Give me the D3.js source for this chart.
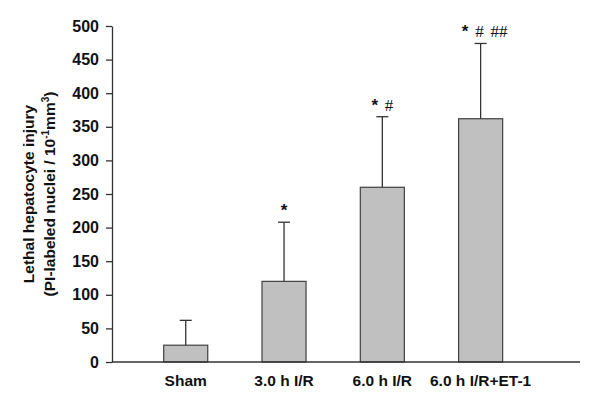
<!DOCTYPE html>
<html><head><meta charset="utf-8">
<script src="https://cdn.jsdelivr.net/npm/d3@7"></script>
<style>body{margin:0;background:#fff}svg{display:block}</style>
</head><body>
<script>
const categories = ["Sham", "3.0 h I/R", "6.0 h I/R", "6.0 h I/R+ET-1"];
const means = [25, 120, 260, 362];
const errTops = [62, 208, 365, 474];
const marks = [[], ["*"], ["*", "#"], ["*", "#", "##"]];
const yTicks = [0, 50, 100, 150, 200, 250, 300, 350, 400, 450, 500];

const W = 600, H = 406;
const svg = d3.select("body").append("svg").attr("width", W).attr("height", H);
const x0 = 112, step = 98.3;
const x = d3.scaleBand().domain(categories)
  .range([x0 + 0.25 * step, x0 + 4.25 * step])
  .paddingInner(0.552).paddingOuter(0.276);
const y = d3.scaleLinear().domain([0, 500]).range([362, 26]);
const axisColor = "#333";
const sans = "Liberation Sans, Arial, sans-serif";

// bars
svg.selectAll("rect.bar").data(categories).enter().append("rect")
  .attr("x", d => x(d)).attr("width", x.bandwidth())
  .attr("y", (d, i) => y(means[i])).attr("height", (d, i) => y(0) - y(means[i]))
  .attr("fill", "#c0c0c0").attr("stroke", "#404040").attr("stroke-width", 1.2);

// error bars
const cx = d => x(d) + x.bandwidth() / 2;
svg.selectAll("line.err").data(categories).enter().append("line")
  .attr("x1", cx).attr("x2", cx)
  .attr("y1", (d, i) => y(means[i])).attr("y2", (d, i) => y(errTops[i]))
  .attr("stroke", "#333").attr("stroke-width", 1.3);
svg.selectAll("line.cap").data(categories).enter().append("line")
  .attr("x1", d => cx(d) - 6).attr("x2", d => cx(d) + 6)
  .attr("y1", (d, i) => y(errTops[i])).attr("y2", (d, i) => y(errTops[i]))
  .attr("stroke", "#333").attr("stroke-width", 1.3);

// significance marks
categories.forEach((c, i) => {
  if (!marks[i].length) return;
  const t = svg.append("text").attr("x", cx(c) + (i === 3 ? 4 : 0))
    .attr("y", y(errTops[i]) - 6).attr("text-anchor", "middle")
    .attr("font-size", 17).attr("fill", "#111");
  marks[i].forEach((m, j) => {
    const s = t.append("tspan").text((j > 0 ? " " : "") + m).attr("dx", j > 0 ? 2.5 : 0);
    if (m === "*") s.attr("font-family", sans).attr("font-weight", "bold").attr("font-size", 17);
    else s.attr("font-family", "Liberation Serif, Times New Roman, serif").attr("font-size", 17);
  });
});

// y axis
const yAxis = d3.axisLeft(y).tickValues(yTicks).tickSize(6).tickSizeOuter(0).tickPadding(7);
const ga = svg.append("g").attr("transform", `translate(${x0},0)`).call(yAxis);
ga.select(".domain").attr("stroke", axisColor).attr("stroke-width", 1.3);
ga.selectAll(".tick line").attr("stroke", axisColor).attr("stroke-width", 1.3);
ga.selectAll(".tick text").attr("font-family", sans)
  .attr("font-weight", "bold").attr("font-size", 16).attr("fill", "#111");

// x axis line
svg.append("line").attr("x1", x0).attr("x2", 580).attr("y1", y(0)).attr("y2", y(0))
  .attr("stroke", axisColor).attr("stroke-width", 1.3);
svg.selectAll("text.xl").data(categories).enter().append("text")
  .attr("x", cx).attr("y", 386).attr("text-anchor", "middle")
  .attr("font-family", sans).attr("font-weight", "bold")
  .attr("font-size", 15.5).attr("fill", "#111").text(d => d);

// y title
const tg = svg.append("g").attr("transform", "translate(0,194) rotate(-90)")
  .attr("font-family", sans).attr("font-weight", "bold")
  .attr("font-size", 15.5).attr("fill", "#111").attr("text-anchor", "middle");
tg.append("text").attr("x", 0).attr("y", 34).text("Lethal hepatocyte injury");
const t2 = tg.append("text").attr("x", 0).attr("y", 55);
t2.append("tspan").text("(PI-labeled nuclei / 10");
t2.append("tspan").attr("dy", -6).attr("font-size", 10).text("-1");
t2.append("tspan").attr("dy", 6).text("mm");
t2.append("tspan").attr("dy", -6).attr("font-size", 10).text("3");
t2.append("tspan").attr("dy", 6).text(")");
</script>
</body></html>
